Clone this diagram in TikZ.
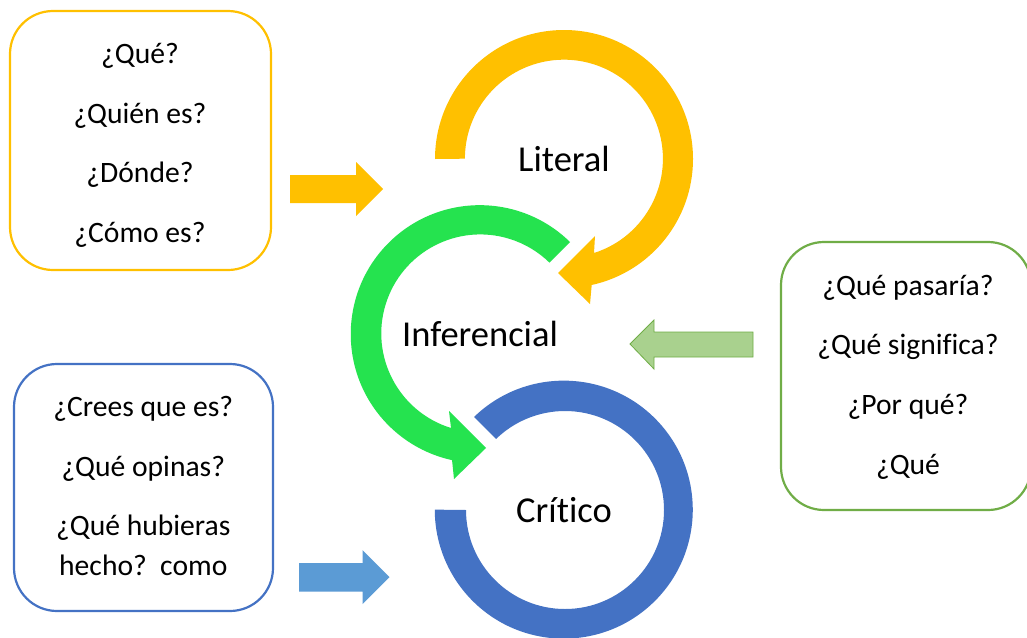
\documentclass[tikz,border=0pt]{standalone}
\usepackage{fontspec}
\setmainfont{Carlito}[Ligatures=NoCommon]
\definecolor{cyellow}{HTML}{FFC000}
\definecolor{cgreen}{HTML}{25E34F}
\definecolor{cblue}{HTML}{4472C4}
\definecolor{boxgreen}{HTML}{70AD47}
\definecolor{fillgreen}{HTML}{A9D18E}
\definecolor{arrowblue}{HTML}{5B9BD5}
\tikzset{
  qbox/.style={rounded corners=43pt,line width=2.2pt,fill=white},
  qtext/.style={anchor=base,inner sep=0pt,font=\fontsize{29.6}{34}\selectfont,text=black},
  title/.style={anchor=base,inner sep=0pt,font=\fontsize{36.5}{42}\selectfont,text=black}
}
\begin{document}
\begin{tikzpicture}[x=1pt,y=1pt,yscale=-1]
\useasboundingbox (0,0) rectangle (1027,637);
\clip (0,0) rectangle (1027,637);
\fill[white] (0,0) rectangle (1027,637);
% boxes
\draw[qbox,draw=cyellow] (10,11) rectangle (271,270);
\draw[qbox,draw=boxgreen] (781,242) rectangle (1031,510);
\draw[qbox,draw=cblue] (14,364) rectangle (273,611);
% rings
\fill[cyellow] (435,159) arc[start angle=180,end angle=437.6,radius=129pt]
  -- (590,304) -- (558,273) -- (595,236)
  -- (594,253) arc[start angle=432.3,end angle=180,radius=99pt] -- cycle;
\fill[cgreen] (570,242) arc[start angle=-45.6,end angle=-257.6,radius=129pt]
  -- (454,479) -- (486,448) -- (449,411)
  -- (451,428) arc[start angle=-252.8,end angle=-45.6,radius=99pt] -- cycle;
\fill[cblue] (474,417) arc[start angle=225.9,end angle=540,radius=129pt]
  -- (466,510) arc[start angle=540,end angle=225.9,radius=99pt] -- cycle;
% block arrows
\fill[cyellow] (290,175) -- (356,175) -- (356,162) -- (383,189) -- (356,216) -- (356,203) -- (290,203) -- cycle;
\filldraw[fill=fillgreen,draw=boxgreen,line width=0.8pt] (753,332) -- (654,332) -- (654,320) -- (630,344) -- (654,369) -- (654,357) -- (753,357) -- cycle;
\fill[arrowblue] (299,563) -- (362.5,563) -- (362.5,550) -- (389.5,577) -- (362.5,604) -- (362.5,591.5) -- (299,591.5) -- cycle;
% text
\node[qtext] (q1) at (140,63) {¿Qué?};
\node[qtext] (q2) at (140,123) {¿Quién es?};
\node[qtext] (q3) at (140,182) {¿Dónde?};
\node[qtext] (q4) at (140,242) {¿Cómo es?};
\node[qtext] (g1) at (908,295) {¿Qué pasaría?};
\node[qtext] (g2) at (908,354) {¿Qué significa?};
\node[qtext] (g3) at (908,414) {¿Por qué?};
\node[qtext] (g4) at (908,474) {¿Qué};
\node[qtext] (b1) at (143.3,416) {¿Crees que es?};
\node[qtext] (b2) at (143.3,476) {¿Qué opinas?};
\node[qtext] (b3) at (143.3,535.5) {¿Qué hubieras};
\node[qtext] (b4) at (143.3,575) {hecho?~~como};
\node[title] (lit) at (564,171.5) {Literal};
\node[title] (inf) at (480,346.5) {Inferencial};
\node[title] (cri) at (564,522.5) {Crítico};
\end{tikzpicture}
\end{document}
